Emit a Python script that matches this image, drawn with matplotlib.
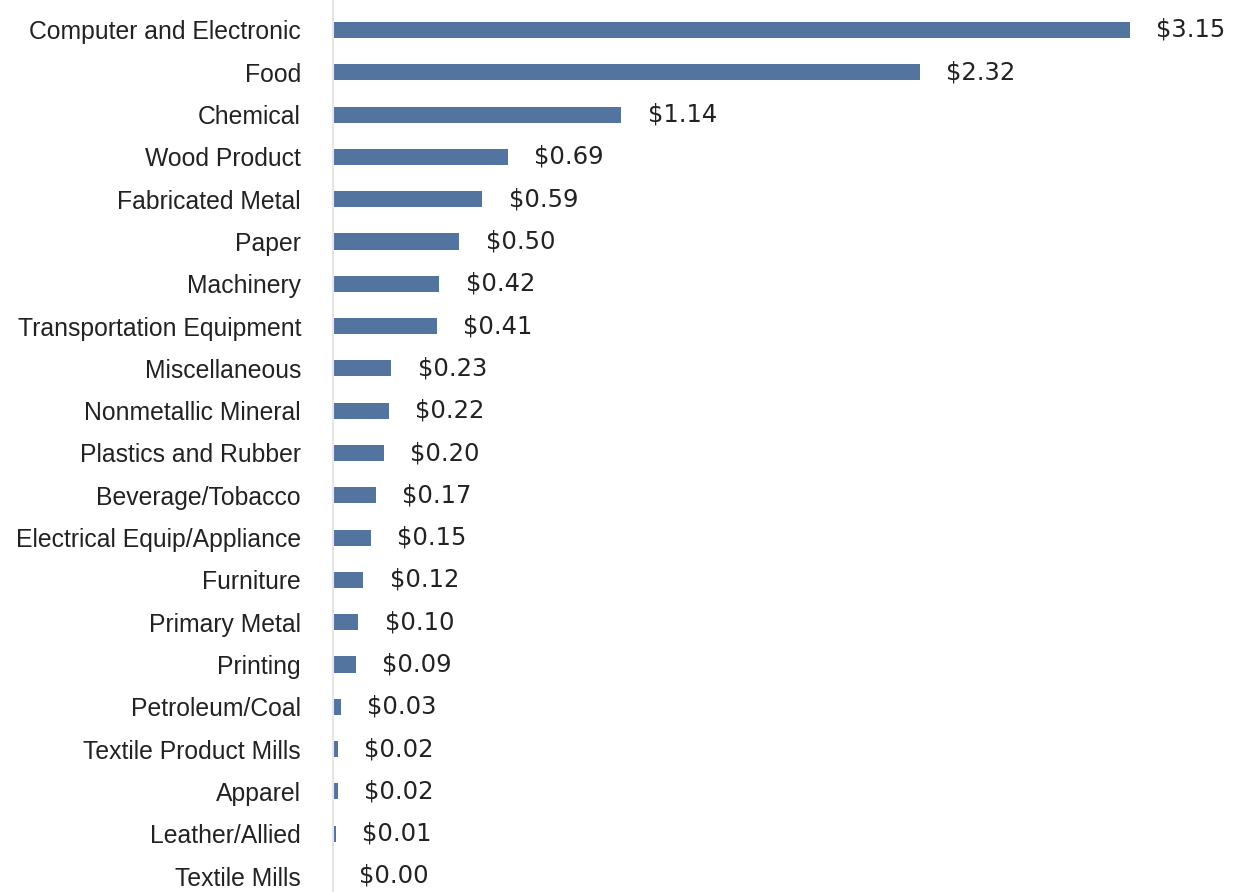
import matplotlib.pyplot as plt
import numpy as np

# Value added by manufacturing sector (billions of dollars)
sectors = [
    "Computer and Electronic",
    "Food",
    "Chemical",
    "Wood Product",
    "Fabricated Metal",
    "Paper",
    "Machinery",
    "Transportation Equipment",
    "Miscellaneous",
    "Nonmetallic Mineral",
    "Plastics and Rubber",
    "Beverage/Tobacco",
    "Electrical Equip/Appliance",
    "Furniture",
    "Primary Metal",
    "Printing",
    "Petroleum/Coal",
    "Textile Product Mills",
    "Apparel",
    "Leather/Allied",
    "Textile Mills",
]
values = [3.15, 2.32, 1.14, 0.69, 0.59, 0.50, 0.42, 0.41, 0.23, 0.22, 0.20,
          0.17, 0.15, 0.12, 0.10, 0.09, 0.03, 0.02, 0.02, 0.01, 0.00]

bar_color = "#5474a0"
text_color = "#222222"

plt.rcParams["font.family"] = ["Liberation Sans", "DejaVu Sans"]

fig = plt.figure(figsize=(12.38, 8.92), dpi=100)
ax = fig.add_axes([333 / 1238, 0, 905 / 1238, 1])

positions = np.arange(len(sectors))
ax.barh(positions, values, height=0.38, color=bar_color)

for pos, value in zip(positions, values):
    ax.annotate(f"${value:.2f}", (value, pos), xytext=(19, 0),
                textcoords="offset points", ha="left", va="center",
                fontsize=17.5, family="DejaVu Sans", color=text_color)

ax.set_yticks(positions, sectors)
ax.tick_params(axis="y", length=0, pad=23, labelsize=17.8, labelcolor=text_color)
ax.set_xticks([])
ax.set_xlim(0, 905 / 253)
ax.set_ylim(20 + 16 / 42.3, -30 / 42.3)

for side in ["top", "right", "bottom"]:
    ax.spines[side].set_visible(False)
ax.spines["left"].set_color("#e6e6e6")
ax.spines["left"].set_linewidth(1.5)

fig.savefig("out.png", dpi=100)
